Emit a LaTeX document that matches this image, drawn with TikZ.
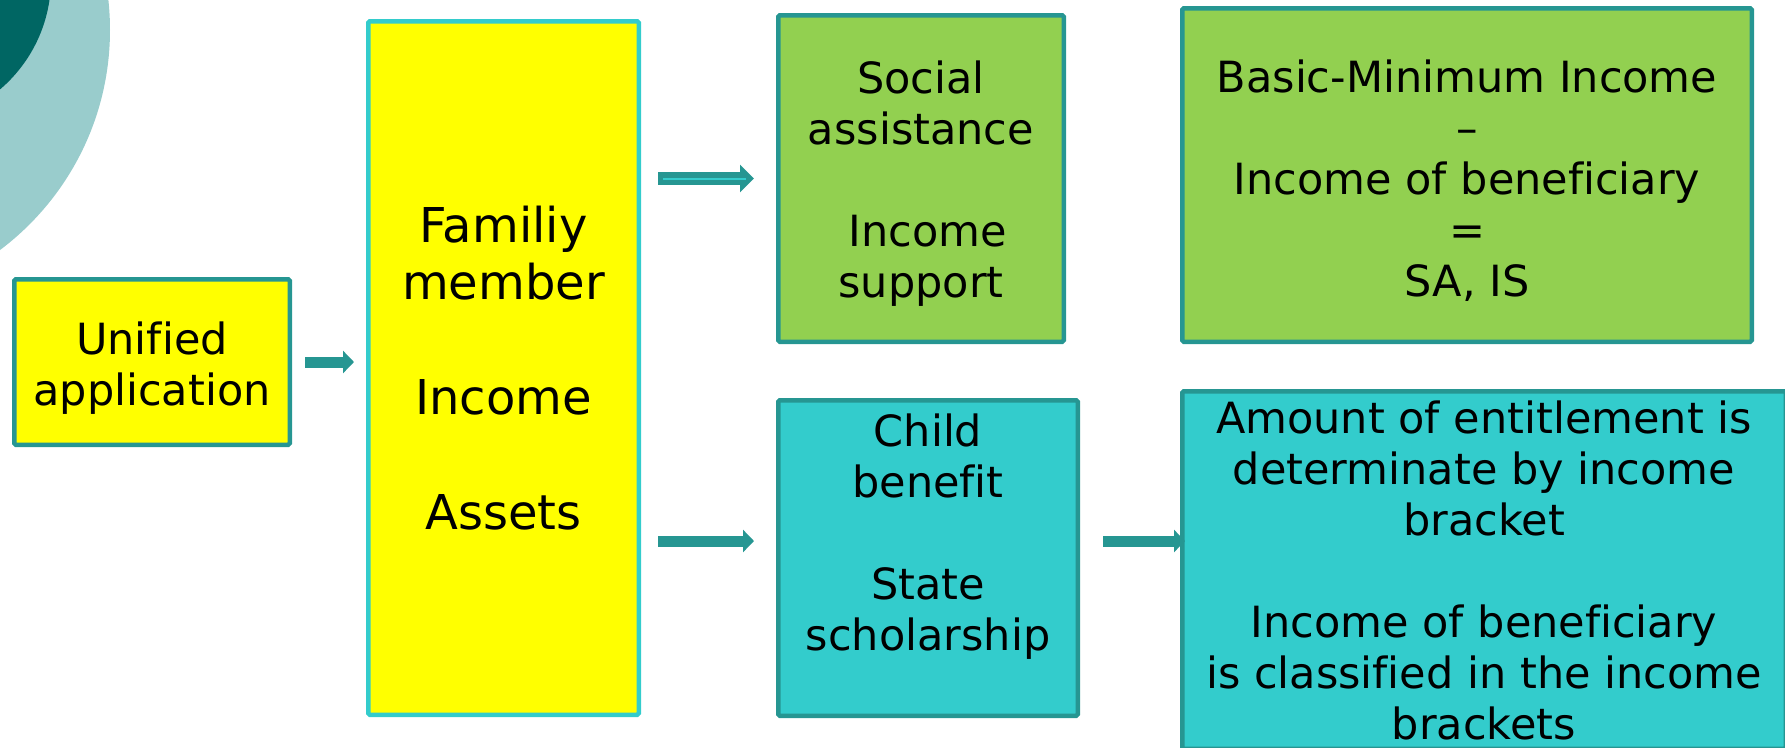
\documentclass[tikz,border=0pt]{standalone}
\usepackage{fontspec}
\setmainfont{DejaVu Sans}[Ligatures={NoCommon}]
\usetikzlibrary{arrows.meta}
\definecolor{tealb}{RGB}{38,150,146}
\definecolor{cyanf}{RGB}{51,204,204}
\definecolor{greenf}{RGB}{146,208,80}
\definecolor{yellowf}{RGB}{255,255,0}
\definecolor{ringlight}{RGB}{153,204,204}
\definecolor{ringdark}{RGB}{0,102,99}
\newcommand{\topgap}[1]{\rule{0pt}{#1}}
\begin{document}
\begin{tikzpicture}[x=1pt,y=-1pt,
  box/.style={draw=tealb, line width=4.5pt, rounded corners=1.5pt, align=center,
    inner sep=0pt, text=black, font=\fontsize{43}{51}\selectfont},
  arr/.style={tealb, line width=11pt, -{Triangle[length=11pt,width=22pt]}},
  dblarr/.style={tealb, line width=13pt, -{Triangle[length=14pt,width=27pt]}},
  innerline/.style={cyanf, line width=2pt},
]
\useasboundingbox (0,0) rectangle (1785,747);
\clip (0,0) rectangle (1785,747);

% decorative rings in the top-left corner
\fill[ringlight] (-165,30) circle[radius=275pt];
\fill[ringdark] (-94,-21) circle[radius=145pt];

% boxes
\node[box, fill=yellowf, minimum width=275.5pt, minimum height=165.5pt]
  (ua) at (152,362) {\topgap{45pt}Unified\\application};
\node[box, draw=cyanf, fill=yellowf, minimum width=270.5pt, minimum height=693.5pt,
  font=\fontsize{48}{57.5}\selectfont]
  (fam) at (503.5,368) {Familiy\\member\\[57.5pt]Income\\[57.5pt]Assets};
\node[box, fill=greenf, minimum width=285.5pt, minimum height=326.5pt]
  (sa) at (921,178.5) {\topgap{43pt}Social\\assistance\\[51pt]\hspace*{.32em}Income\\support};
\node[box, fill=greenf, minimum width=569.5pt, minimum height=333.5pt]
  (bm) at (1467,175) {\topgap{43pt}Basic-Minimum Income\\–\\Income of beneficiary\\=\\SA, IS};
\node[box, fill=cyanf, minimum width=299.5pt, minimum height=315.5pt]
  (cb) at (928,558) {Child\\benefit\\[51pt]State\\scholarship\\\mbox{}};
\node[box, fill=cyanf, minimum width=603.5pt, minimum height=357.5pt]
  (ce) at (1484,570) {Amount of entitlement is\\determinate by income\\bracket\\[51pt]Income of beneficiary\\is classified in the income\\brackets};

% connectors
\coordinate (lowy) at (0,541);
\draw[arr, shorten <=13pt, shorten >=12pt] (ua.east) -- (ua.east -| fam.west);
\draw[dblarr, shorten <=17pt, shorten >=22pt] (sa.west -| fam.east) -- (sa.west);
\draw[innerline, shorten <=22pt, shorten >=30pt] (sa.west -| fam.east) -- (sa.west);
\draw[arr, shorten <=17pt, shorten >=22pt] (fam.east |- lowy) -- (cb.west |- lowy);
\draw[arr, shorten <=23pt, shorten >=-5pt] (cb.east |- lowy) -- (ce.west |- lowy);
\end{tikzpicture}
\end{document}
